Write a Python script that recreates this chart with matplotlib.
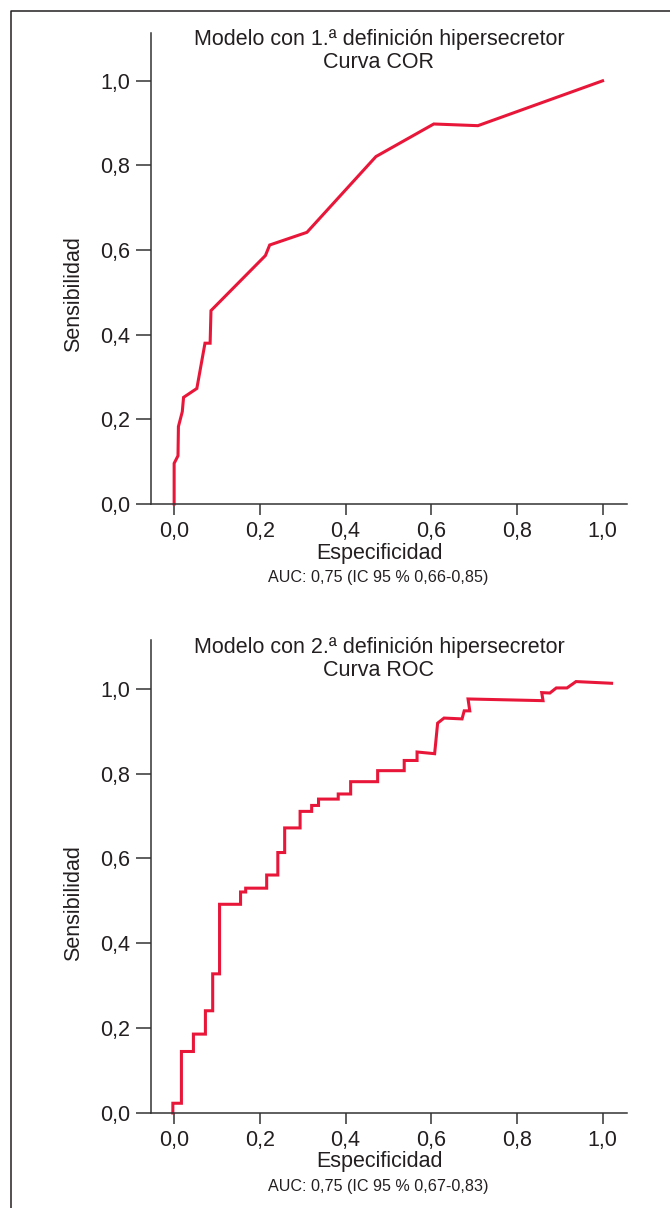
import matplotlib
matplotlib.use("Agg")
import matplotlib.pyplot as plt
from matplotlib.lines import Line2D

# Panel 1: 1.a definicion (Curva COR)
spec_1 = [0.0, 0.0, 0.009, 0.010, 0.019, 0.022, 0.053, 0.072, 0.084, 0.086,
          0.213, 0.223, 0.310, 0.471, 0.606, 0.709, 1.0]
sens_1 = [0.0, 0.096, 0.114, 0.183, 0.218, 0.252, 0.273, 0.380, 0.380, 0.457,
          0.587, 0.612, 0.642, 0.821, 0.898, 0.894, 1.0]

# Panel 2: 2.a definicion (Curva ROC), stepped
spec_2 = [-0.003, -0.003, 0.017, 0.017, 0.045, 0.045, 0.073, 0.073, 0.090, 0.090,
          0.106, 0.106, 0.155, 0.155, 0.167, 0.167, 0.216, 0.216, 0.242, 0.242,
          0.258, 0.258, 0.294, 0.294, 0.321, 0.321, 0.337, 0.337, 0.383, 0.383,
          0.412, 0.412, 0.475, 0.475, 0.537, 0.537, 0.567, 0.567, 0.608, 0.615,
          0.630, 0.672, 0.677, 0.690, 0.686, 0.861, 0.858, 0.877, 0.892, 0.917,
          0.938, 1.021]
sens_2 = [0.0, 0.023, 0.023, 0.145, 0.145, 0.186, 0.186, 0.241, 0.241, 0.328,
          0.328, 0.492, 0.492, 0.521, 0.521, 0.530, 0.530, 0.561, 0.561, 0.614,
          0.614, 0.672, 0.672, 0.711, 0.711, 0.725, 0.725, 0.740, 0.740, 0.752,
          0.752, 0.781, 0.781, 0.807, 0.807, 0.831, 0.831, 0.851, 0.847, 0.919,
          0.931, 0.929, 0.948, 0.948, 0.976, 0.972, 0.991, 0.990, 1.002, 1.002,
          1.017, 1.013]

tick_values = [0.0, 0.2, 0.4, 0.6, 0.8, 1.0]
tick_labels = ["0,0", "0,2", "0,4", "0,6", "0,8", "1,0"]

titles_1 = ["Modelo con 1.ª definición hipersecretor", "Curva COR"]
titles_2 = ["Modelo con 2.ª definición hipersecretor", "Curva ROC"]
auc_1 = "AUC: 0,75 (IC 95 % 0,66-0,85)"
auc_2 = "AUC: 0,75 (IC 95 % 0,67-0,83)"

W, H = 670, 1208
RED = "#e8173a"
AXIS = "#333333"
TEXT = "#231f20"
FS = 15.5

plt.rcParams["font.family"] = ["Liberation Sans", "DejaVu Sans"]
plt.rcParams["text.color"] = TEXT

fig = plt.figure(figsize=(W / 100, H / 100), dpi=100)


def px(x, y):
    # pixel position (from top-left) -> figure fraction
    return x / W, 1 - y / H


def draw_panel(rect, x, y, ytop, titles, auc, y_axis_px, title_y):
    ax = fig.add_axes(rect)
    ax.plot(x, y, color=RED, linewidth=2.2, clip_on=False,
            solid_joinstyle="miter")
    ax.set_xlim(-0.054, 1.057)
    ax.set_ylim(0, ytop)
    ax.spines["top"].set_visible(False)
    ax.spines["right"].set_visible(False)
    for side in ["left", "bottom"]:
        ax.spines[side].set_color(AXIS)
        ax.spines[side].set_linewidth(1.1)
    ax.set_xticks(tick_values)
    ax.set_xticklabels(tick_labels)
    ax.set_yticks(tick_values)
    ax.set_yticklabels(tick_labels)
    ax.tick_params(axis="x", direction="out", length=8, width=1.1,
                   color=AXIS, labelsize=FS, pad=4, labelcolor=TEXT)
    ax.tick_params(axis="y", direction="out", length=11, width=1.1,
                   color=AXIS, labelsize=FS, pad=4, labelcolor=TEXT)
    ax.patch.set_visible(False)

    fig.text(*px(379, title_y), titles[0], ha="center", va="center", fontsize=FS)
    fig.text(*px(378, title_y + 23), titles[1], ha="center", va="center", fontsize=FS)
    fig.text(*px(379, y_axis_px + 49), "Especificidad", ha="center", va="center",
             fontsize=FS)
    fig.text(*px(378.5, y_axis_px + 74), auc, ha="center", va="center",
             fontsize=11.6)
    fig.text(*px(74, y_axis_px - 210), "Sensibilidad", ha="center", va="center",
             rotation=90, fontsize=FS)
    return ax


# top panel: axes from x=151..627 px, y=33..504 px
draw_panel([151 / W, 1 - 504 / H, 476 / W, 471 / H], spec_1, sens_1, 1.113,
           titles_1, auc_1, 504, 40)
# bottom panel: axes from x=151..627 px, y=640..1113 px
draw_panel([151 / W, 1 - 1113 / H, 476 / W, 473 / H], spec_2, sens_2, 1.115,
           titles_2, auc_2, 1113, 647)

# frame around the figure (only top and left edges visible)
fig.add_artist(Line2D([11 / W, 11 / W, 1.0], [0.0, 1 - 11 / H, 1 - 11 / H],
                      transform=fig.transFigure, color=TEXT, linewidth=1.1))

fig.savefig("out.png", dpi=100)
